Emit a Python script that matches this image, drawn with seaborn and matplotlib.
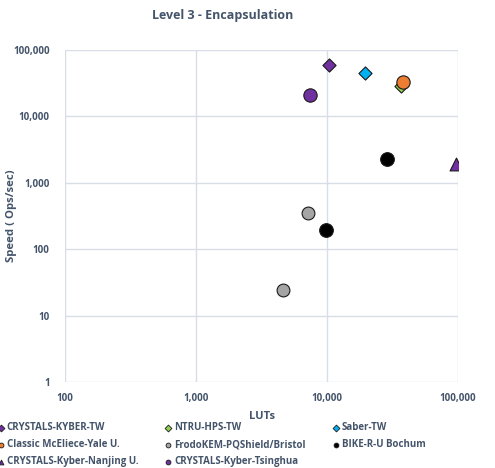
import matplotlib
matplotlib.use("Agg")
import matplotlib.pyplot as plt
import matplotlib.ticker as mticker
import seaborn as sns
import pandas as pd

# datos
series = ["CRYSTALS-KYBER-TW", "NTRU-HPS-TW", "Saber-TW",
          "Classic McEliece-Yale U.", "FrodoKEM-PQShield/Bristol", "BIKE-R-U Bochum",
          "CRYSTALS-Kyber-Nanjing U.", "CRYSTALS-Kyber-Tsinghua"]
luts = [[10350], [36700], [19500], [38300], [7200, 4620], [28600, 9780], [96600], [7420]]
speed = [[59300], [28600], [45400], [32500], [348, 24.3], [2260, 198], [1950], [21100]]

colores = ["#7030A0", "#92D050", "#00B0F0", "#ED7D31", "#A5A5A5", "#000000", "#7030A0", "#7030A0"]
marcadores = ["D", "D", "D", "o", "o", "o", "^", "o"]
tamanos = [45, 45, 45, 92, 85, 97, 85, 92]

sns.set_style("white")
plt.rcParams["font.family"] = ["Open Sans", "DejaVu Sans"]
plt.rcParams["font.weight"] = "bold"
plt.rcParams["axes.labelweight"] = "bold"
texto = "#44546A"

fig = plt.figure(figsize=(4.95, 4.68), dpi=100)
ax = fig.add_axes([65/495, 1-382/468, (458-65)/495, (382-50)/468])

for i in range(len(series)):
    df = pd.DataFrame({"LUTs": luts[i], "Speed": speed[i]})
    sns.scatterplot(data=df, x="LUTs", y="Speed", ax=ax, marker=marcadores[i],
                    color=colores[i], s=tamanos[i], edgecolor="#1a1a1a", linewidth=0.8,
                    label=series[i], zorder=3)

ax.set_xscale("log")
ax.set_yscale("log")
ax.set_xlim(100, 100000)
ax.set_ylim(1, 100000)
fmt = mticker.FuncFormatter(lambda v, p: f"{v:,.0f}")
ax.xaxis.set_major_formatter(fmt)
ax.yaxis.set_major_formatter(fmt)
ax.xaxis.set_minor_locator(mticker.NullLocator())
ax.yaxis.set_minor_locator(mticker.NullLocator())
ax.grid(True, color="#D9DDE6", linewidth=1)
for s in ax.spines.values():
    s.set_visible(False)
ax.tick_params(length=0, labelsize=7, colors=texto)
ax.tick_params(axis="y", pad=11)
ax.tick_params(axis="x", pad=8)

ax.set_xlabel("LUTs", fontsize=8, color=texto)
ax.xaxis.set_label_coords(0.5, -29/332)
ax.set_ylabel("Speed ( Ops/sec)", fontsize=8.2, color=texto)
ax.yaxis.set_label_coords(-48/393, 0.5)
fig.text(223/495, 1-16/468, "Level 3 - Encapsulation", ha="center", va="center",
         fontsize=9, color=texto)

# leyenda en filas (3 columnas)
h, l = ax.get_legend_handles_labels()
orden = [0, 3, 6, 1, 4, 7, 2, 5]
leg = ax.legend([h[k] for k in orden], [l[k] for k in orden], ncol=3,
                loc="upper left", bbox_to_anchor=(-73/393, -0.11), frameon=False,
                fontsize=7, handletextpad=0.1, columnspacing=2.6,
                labelspacing=0.6, handlelength=1.0, borderaxespad=0)
for hh in leg.legend_handles:
    hh.set_sizes([12])
    hh.set_linewidth(0.6)
for t in leg.get_texts():
    t.set_color(texto)

plt.savefig("out.png", dpi=100)
